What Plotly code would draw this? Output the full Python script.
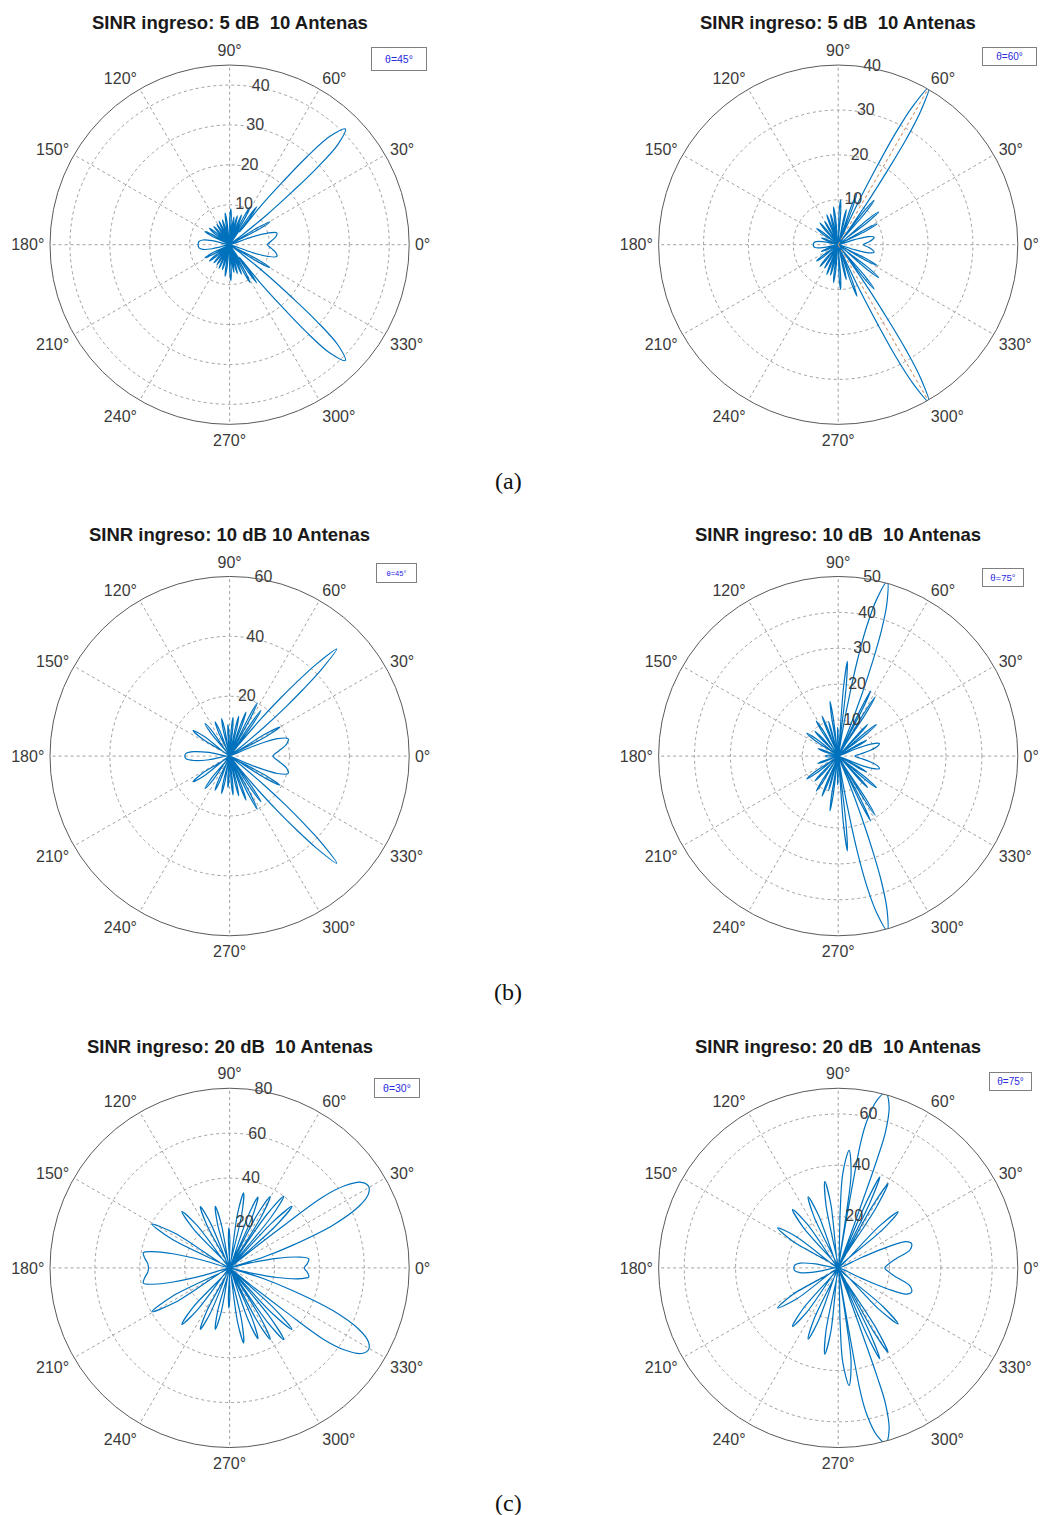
import plotly.graph_objects as go

# ---------------- data (upper half 0..180 deg, pattern is mirror-symmetric) -------------
A1_THETA = [0, 5, 10, 14, 17, 19, 21,
            27.8, 29.5, 31.2, 34,
            37.5, 38.8, 40.2, 41.3, 42.8, 45, 47.2, 48.7, 49.8, 51.2, 52,
            53.3, 54.5, 55.7, 57.5,
            60, 61.5, 63, 65,
            66.6, 68, 69.4, 71.5,
            73.6, 75, 76.4, 78,
            79.6, 81, 82.4, 84.5,
            86.3, 88, 89.7, 93,
            96.4, 98, 99.6, 102,
            104.4, 106, 107.6, 110,
            112.4, 114, 115.6, 118,
            120.3, 122, 123.7, 126.5,
            129.2, 131, 132.8, 136,
            138.8, 141, 143.2, 146.5,
            149.8, 152, 154.2, 160,
            167, 170, 174, 180]
A1_R = [9.5, 10.5, 11.8, 12.2, 10, 6, 0,
        8.3, 11.6, 8.3, 0,
        4, 12, 20.5, 29, 37, 41, 37, 29, 20.5, 12, 4,
        8.4, 11.7, 8.4, 0,
        7.8, 10.8, 7.8, 0,
        5.8, 8, 5.8, 0,
        5.4, 7.5, 5.4, 0,
        5, 7, 5, 0,
        6.5, 9, 6.5, 0,
        5.8, 8, 5.8, 0,
        4.7, 6.5, 4.7, 0,
        4.7, 6.5, 4.7, 0,
        4.3, 6, 4.3, 0,
        4.3, 6, 4.3, 0,
        4.7, 6.5, 4.7, 0,
        5, 7, 5, 0,
        4.5, 6.8, 7.7, 7.9]

A2_THETA = [0, 5, 9, 12, 15, 17, 19,
            26.4, 28, 29.6, 32,
            37.4, 39, 40.6, 44,
            49.6, 51, 52.4, 53.5,
            54.6, 55.5, 56.4, 57.2, 58.3, 60, 61.7, 62.8, 63.6, 64.5, 65.4, 67,
            68.8, 70, 71.2, 73,
            75.8, 77, 78.2, 80.5,
            85.6, 87, 88.4, 92,
            95.6, 97, 98.4, 100.5,
            102.6, 104, 105.4, 107.5,
            109.6, 111, 112.4, 115,
            118.4, 120, 121.6, 125,
            128.2, 130, 131.8, 136,
            140.8, 143, 145.2, 150,
            156, 158, 160, 165,
            169, 173, 177, 180]
A2_R = [5.6, 6.8, 7.8, 8.2, 7, 4, 0,
        7, 9.8, 7, 0,
        8.4, 11.6, 8.4, 0,
        9.2, 12.7, 9.2, 0,
        4, 12, 20, 28, 35, 40.5, 35, 28, 20, 12, 4, 0,
        8.8, 12.2, 8.8, 0,
        5.8, 8, 5.8, 0,
        7.2, 10, 7.2, 0,
        6.1, 8.5, 6.1, 0,
        5, 7, 5, 0,
        5.1, 7.1, 5.1, 0,
        4.3, 6, 4.3, 0,
        4.5, 6.3, 4.5, 0,
        4.3, 6, 4.3, 0,
        2.9, 4, 2.9, 0,
        3.5, 5.2, 5.5, 5.5]

B1_THETA = [0, 6, 12, 16.5, 20, 22.5, 24.5,
            28.3, 30, 31.7, 34.5,
            38.8, 40, 41.2, 42.2, 43.3, 45, 46.7, 47.8, 48.8, 50, 51.2, 52.6,
            54.2, 55.5, 56.8, 59,
            61.2, 62.5, 63.8, 66,
            68.2, 69.5, 70.8, 73,
            75.6, 77, 78.4, 81,
            83.6, 85, 86.4, 89,
            91.6, 93, 94.4, 97.5,
            100.4, 102, 103.6, 107,
            111.2, 113, 114.8, 119.5,
            124.8, 127, 129.2, 135,
            142.2, 145, 147.8, 158,
            170, 173, 176.5, 180]
B1_R = [14.5, 16.5, 19.5, 20.4, 17, 9, 0,
        14, 19.4, 14, 0,
        5, 15, 25, 33, 42, 50.6, 42, 33, 25, 15, 5, 0,
        13.3, 18.5, 13.3, 0,
        14.4, 20, 14.4, 0,
        11.3, 15.7, 11.3, 0,
        9.8, 13.6, 9.8, 0,
        9.4, 13, 9.4, 0,
        7.6, 10.5, 7.6, 0,
        9.2, 12.8, 9.2, 0,
        8.9, 12.4, 8.9, 0,
        9.8, 13.6, 9.8, 0,
        10.7, 14.9, 10.7, 0,
        7, 12, 14.6, 15]

B2_THETA = [0, 5, 10, 14, 17, 20, 22, 24,
            27.6, 29, 30.4, 34,
            38, 39.5, 41, 43.5,
            45.8, 47, 48.2, 52,
            57, 58, 59, 61,
            62.6, 63.5, 64.4, 67,
            68, 69, 70, 71, 72.4, 74.3, 76.2, 77.6, 78.6, 79.4, 80.2, 81,
            83.4, 84.5, 85.6, 87.5,
            90.2, 91, 91.8, 94.5,
            97.4, 98.5, 99.6, 102.5,
            104.6, 105.5, 106.4, 108.5,
            110.8, 112, 113.2, 116.5,
            120.6, 122, 123.4, 127.5,
            131.4, 133, 134.6, 138.5,
            142, 144, 146, 151,
            158, 160, 162, 170,
            174, 177, 180]
B2_R = [4.6, 6, 9, 11.3, 12, 10, 6, 0,
        6.5, 9, 6.5, 0,
        10, 13.8, 10, 0,
        8.6, 12, 8.6, 0,
        14, 19.4, 14, 0,
        14.5, 20.2, 14.5, 0,
        8, 18, 28, 37, 45, 50.5, 45, 37, 28, 18, 8, 0,
        19, 26.5, 19, 0,
        5.8, 8, 5.8, 0,
        11, 15.4, 11, 0,
        7.2, 10, 7.2, 0,
        8.6, 12, 8.6, 0,
        8.3, 11.5, 8.3, 0,
        6.8, 9.5, 6.8, 0,
        7.8, 10.8, 7.8, 0,
        4.3, 6, 4.3, 0,
        2.4, 3.3, 3.5]

C1_THETA = [0, 3.5, 6.5, 8.6, 11.5, 13.5, 15,
            17.5, 19.8, 22.5, 25.5, 28, 30.4, 33, 35.5, 37.3, 38, 39, 41,
            42.4, 44.6, 46.8, 48.7,
            50.7, 52.9, 55.1, 56.6,
            58.2, 60.4, 62.6, 64,
            66, 68.2, 70.4, 73.5,
            77.2, 79.4, 81.6, 85,
            89.6, 91, 92.4, 97,
            100.8, 103.1, 105.4, 109,
            113.1, 115.5, 117.9, 122.5,
            127.5, 130.2, 132.9, 139,
            147.6, 150.6, 153.6, 159,
            164, 166, 168, 170, 173.5, 177, 180]
C1_R = [33.3, 34.8, 35.5, 32, 21.5, 10, 0,
        15, 30, 50, 64, 70, 71.8, 70, 63, 52, 32, 12, 0,
        28, 39, 28, 0,
        29, 40, 29, 0,
        26.4, 36.6, 26.4, 0,
        24.5, 34, 24.5, 0,
        24.5, 34, 24.5, 0,
        13, 18, 13, 0,
        20.2, 28.1, 20.2, 0,
        21.8, 30.3, 21.8, 0,
        23.7, 32.9, 23.7, 0,
        28.6, 39.7, 28.6, 0,
        12, 26, 35, 39, 38, 36.5, 36.1]

C2_THETA = [0, 5, 9.2, 14, 18.4, 21, 23, 24, 25.5,
            40.8, 43.1, 45.4, 48,
            57.8, 59.4, 61, 62.4,
            64, 65.4, 66.8, 68.5,
            69.5, 70, 70.3, 70.8, 72.5, 74.8, 77, 79, 79.8, 80.2, 80.5, 80.9,
            81.5, 82.2, 84.7, 87.2, 88, 89.5,
            96.6, 98.8, 101, 105,
            110.5, 112.9, 115.3, 120,
            125.3, 128, 130.7, 137,
            143.3, 146.5, 149.7, 166,
            170, 173, 176.5, 180]
C2_R = [18.2, 20, 23, 28.8, 30.1, 28.5, 21, 10, 0,
        23, 32, 23, 0,
        27.5, 38.2, 27.5, 0,
        28, 39, 28, 0,
        12, 30, 45, 56, 66, 70.7, 67, 58, 50, 35, 15, 0,
        22, 37, 46, 37, 22, 0,
        25, 34, 25, 0,
        22, 30.1, 22, 0,
        21, 28.9, 21, 0,
        20.5, 28.3, 20.5, 0,
        9, 15, 17, 17.3]

TITLES = ["SINR ingreso: 5 dB\u00a0\u00a010 Antenas", "SINR ingreso: 5 dB\u00a0\u00a010 Antenas",
          "SINR ingreso: 10 dB 10 Antenas", "SINR ingreso: 10 dB\u00a0\u00a010 Antenas",
          "SINR ingreso: 20 dB\u00a0\u00a010 Antenas", "SINR ingreso: 20 dB\u00a0\u00a010 Antenas"]
LEGENDS = ["\u03b8=45\u00b0", "\u03b8=60\u00b0", "\u03b8=45\u00b0", "\u03b8=75\u00b0", "\u03b8=30\u00b0", "\u03b8=75\u00b0"]
RMAX = [45, 40, 60, 50, 80, 70]
RTICKS = [[10, 20, 30, 40], [10, 20, 30, 40], [20, 40, 60], [10, 20, 30, 40, 50],
          [20, 40, 60, 80], [20, 40, 60]]
RLABEL_ANGLE = 82
REF_LINE_A2 = [60, 300]          # dotted steering-direction line visible in panel (a) right
CAPTIONS = ["(a)", "(b)", "(c)"]
ANG_TICKS = list(range(0, 360, 30))

CURVES = [(A1_THETA, A1_R), (A2_THETA, A2_R), (B1_THETA, B1_R),
          (B2_THETA, B2_R), (C1_THETA, C1_R), (C2_THETA, C2_R)]

# ---------------- layout geometry (pixels) ----------------
W, H = 1040, 1515
CX = [229.6, 838.2]
CY = [244.7, 756.1, 1267.9]
RAD = 179.6
TITLE_Y = [22.5, 534.5, 1046.5]
CAP_Y = [481, 992, 1503]
LEG_BOX = [(399, 59, 56, 24, 10.5), (1009.5, 56.5, 55, 19, 10), (396.5, 573, 41, 20, 7.5),
           (1003, 577.5, 42, 19, 9.5), (397, 1088, 46, 20, 10.5), (1010.5, 1081.5, 43, 19, 10)]

BLUE = "#0072BD"
FONT = "Liberation Sans"

fig = go.Figure()
layout = {}
annotations = []

for i, (th, rr) in enumerate(CURVES):
    row, col = divmod(i, 2)
    key = "polar" if i == 0 else f"polar{i + 1}"
    full_t = list(th) + [360 - t for t in reversed(th)]
    full_r = list(rr) + list(reversed(rr))
    fig.add_trace(go.Scatterpolar(theta=full_t, r=full_r, mode="lines",
                                  line=dict(color=BLUE, width=1.2, shape="spline", smoothing=1.0),
                                  subplot=key, showlegend=False, hoverinfo="skip"))
    if i == 1:
        for a in REF_LINE_A2:
            fig.add_trace(go.Scatterpolar(theta=[a, a], r=[0, RMAX[i]], mode="lines",
                                          line=dict(color="#E8A070", width=1, dash="dot"),
                                          subplot=key, showlegend=False, hoverinfo="skip"))
    # radial tick labels, horizontal, along the 82 deg direction (MATLAB polar style)
    fig.add_trace(go.Scatterpolar(theta=[RLABEL_ANGLE] * len(RTICKS[i]), r=RTICKS[i],
                                  mode="text", text=[str(v) for v in RTICKS[i]],
                                  textposition="middle right", cliponaxis=False,
                                  textfont=dict(family=FONT, size=16, color="#3c3c3c"),
                                  subplot=key, showlegend=False, hoverinfo="skip"))
    cx, cy = CX[col], CY[row]
    layout[key] = dict(
        domain=dict(x=[(cx - RAD) / W, (cx + RAD) / W],
                    y=[1 - (cy + RAD) / H, 1 - (cy - RAD) / H]),
        bgcolor="white",
        radialaxis=dict(range=[0, RMAX[i]], tickvals=RTICKS[i], angle=RLABEL_ANGLE,
                        showline=False, ticks="", showticklabels=False, showgrid=True,
                        gridcolor="#a0a0a0", griddash="dot", gridwidth=1),
        angularaxis=dict(rotation=0, direction="counterclockwise",
                         tickvals=ANG_TICKS, ticktext=[f"{a}\u00b0" for a in ANG_TICKS],
                         showline=True, linecolor="#5a5a5a", linewidth=1,
                         showgrid=True, gridcolor="#a0a0a0", griddash="dot", gridwidth=1,
                         ticks="outside", ticklen=2, tickcolor="rgba(0,0,0,0)",
                         tickfont=dict(family=FONT, size=16, color="#3a3a3a")),
    )
    annotations.append(dict(text=f"<b>{TITLES[i]}</b>", x=cx / W, y=1 - TITLE_Y[row] / H,
                            xref="paper", yref="paper", xanchor="center", yanchor="middle",
                            showarrow=False, font=dict(family=FONT, size=18.5, color="#1a1a1a")))
    bx, by, bw, bh, fs = LEG_BOX[i]
    annotations.append(dict(text=LEGENDS[i], x=bx / W, y=1 - by / H, xref="paper", yref="paper",
                            xanchor="center", yanchor="middle", showarrow=False,
                            width=bw - 2, height=bh - 2, borderpad=0,
                            bordercolor="#7f7f7f", borderwidth=1, bgcolor="white",
                            font=dict(family=FONT, size=fs, color="#2a2ae0")))

for k, cap in enumerate(CAPTIONS):
    annotations.append(dict(text=cap, x=508 / W, y=1 - CAP_Y[k] / H, xref="paper", yref="paper",
                            xanchor="center", yanchor="middle", showarrow=False,
                            font=dict(family="Liberation Serif", size=24, color="#111111")))

fig.update_layout(width=W, height=H, margin=dict(l=0, r=0, t=0, b=0),
                  paper_bgcolor="white", plot_bgcolor="white", showlegend=False,
                  annotations=annotations, **layout)
fig.write_html("out.html")
